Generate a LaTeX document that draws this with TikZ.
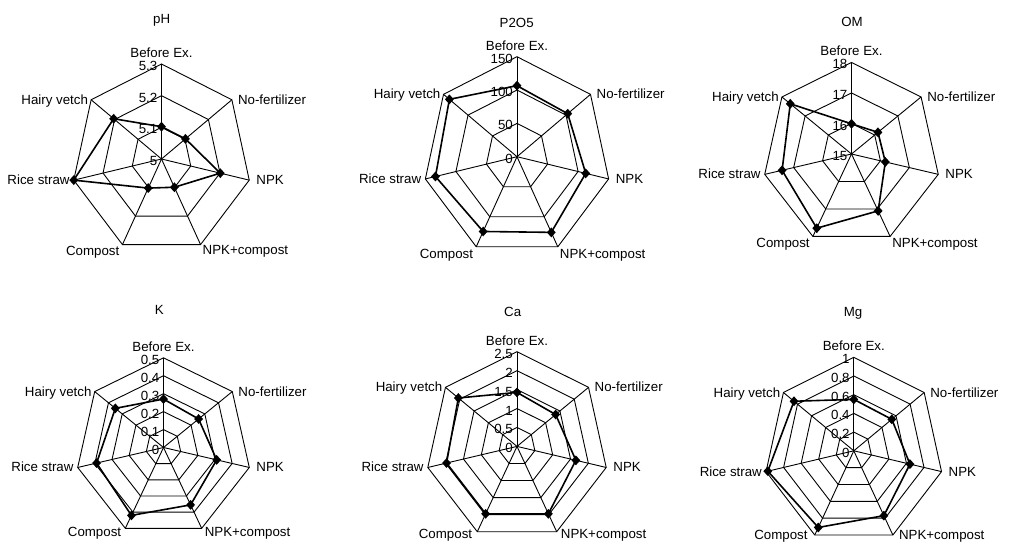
\documentclass[tikz,border=0pt]{standalone}
\usepackage{fontspec}
\setmainfont{Liberation Sans}
\usetikzlibrary{calc,shapes.geometric}
\tikzset{
  gridline/.style={line width=0.9pt, black},
  dataline/.style={line width=1.6pt, black, line join=round},
  datamark/.style={shape=diamond, fill=black, draw=none, inner sep=0pt, minimum width=9pt, minimum height=10pt},
  axlab/.style={font=\fontsize{13.3}{13.3}\selectfont, inner sep=0pt},
  ticklab/.style={font=\fontsize{13.3}{13.3}\selectfont, inner sep=0pt, anchor=base east},
  titlelab/.style={font=\fontsize{13.3}{13.3}\selectfont, inner sep=0pt, anchor=base},
}
\def\labdx{2}
% #1 prefix, #2 cx, #3 cy, #4 rx, #5 ry, #6 rings, #7 bottom label offset, #8 tick labels, #9 data fractions
\newcommand\radarplot[9]{%
  \coordinate (#1c) at (#2,#3);
  \foreach \i in {0,...,6}{%
    \pgfmathsetmacro\ang{90-\i*360/7}
    \coordinate (#1v\i) at ({#2+#4*cos(\ang)},{#3-#5*sin(\ang)});
  }
  \foreach \k in {1,...,#6}{%
    \pgfmathsetmacro\fr{\k/#6}
    \draw[gridline] ($(#1c)!\fr!(#1v0)$) -- ($(#1c)!\fr!(#1v1)$) -- ($(#1c)!\fr!(#1v2)$) -- ($(#1c)!\fr!(#1v3)$) -- ($(#1c)!\fr!(#1v4)$) -- ($(#1c)!\fr!(#1v5)$) -- ($(#1c)!\fr!(#1v6)$) -- cycle;
  }
  \foreach \i in {0,...,6}{\draw[gridline] (#1c) -- (#1v\i);}
  \foreach \lab [count=\k from 0] in {#8}{%
    \pgfmathsetmacro\fr{\k/#6}
    \node[ticklab] (#1k\k) at ($(#1c)!\fr!(#1v0)+(-4,6.5)$) {\lab};
  }
  \foreach \v [count=\i from 0] in {#9}{%
    \coordinate (#1d\i) at ($(#1c)!\v!(#1v\i)$);
  }
  \draw[dataline] (#1d0) -- (#1d1) -- (#1d2) -- (#1d3) -- (#1d4) -- (#1d5) -- (#1d6) -- cycle;
  \foreach \i in {0,...,6}{\node[datamark] (#1m\i) at (#1d\i) {};}
  \node[axlab, anchor=base] (#1a0) at ($(#1v0)+(0,-6.5)$) {Before Ex.};
  \node[axlab, anchor=base west] (#1a1) at ($(#1v1)+(6,4.5)$) {No-fertilizer};
  \node[axlab, anchor=base west] (#1a2) at ($(#1v2)+(7,4.5)$) {NPK};
  \node[axlab, anchor=north west] (#1a3) at ($(#1v3)+(\labdx,#7)$) {NPK+compost};
  \node[axlab, anchor=north east] (#1a4) at ($(#1v4)+(-\labdx-1,#7)$) {Compost};
  \node[axlab, anchor=base east] (#1a5) at ($(#1v5)+(-4,4.5)$) {Rice straw};
  \node[axlab, anchor=base east] (#1a6) at ($(#1v6)+(-3,4.5)$) {Hairy vetch};
}
\begin{document}
\begin{tikzpicture}[x=1pt,y=-1pt]
\fill[white] (0,0) rectangle (1013,543);
\useasboundingbox (0,0) rectangle (1013,543);

\radarplot{ph}{161.5}{159}{90}{95}{3}{1}{5,5.1,5.2,5.3}{0.34,0.34,0.67,0.33,0.34,1,0.68}
\radarplot{pp}{517}{156.7}{94}{100}{3}{2}{0,50,100,150}{0.71,0.69,0.75,0.84,0.83,0.89,0.92}
\radarplot{om}{851.5}{154}{89}{91.5}{3}{2}{15,16,17,18}{0.33,0.38,0.39,0.69,0.9,0.8,0.88}
\def\labdx{3}
\radarplot{kk}{163.5}{447.5}{88}{89.7}{5}{-1}{0,0.1,0.2,0.3,0.4,0.5}{0.54,0.51,0.62,0.71,0.84,0.78,0.70}
\def\labdx{4}
\radarplot{ca}{517}{446.4}{91.5}{94.7}{5}{-3}{0,0.5,1,1.5,2,2.5}{0.57,0.54,0.66,0.79,0.79,0.79,0.82}
\def\labdx{6}
\radarplot{mg}{853.8}{450.8}{90}{93.5}{5}{-5}{0,0.2,0.4,0.6,0.8,1}{0.55,0.54,0.64,0.77,0.91,0.98,0.85}

\node[titlelab] (tph) at (161.7,24) {pH};
\node[titlelab] (tpp) at (516.7,27.3) {P2O5};
\node[titlelab] (tom) at (852,26.7) {OM};
\node[titlelab] (tkk) at (159.3,314) {K};
\node[titlelab] (tca) at (512.7,316.7) {Ca};
\node[titlelab] (tmg) at (853,316.5) {Mg};
\end{tikzpicture}
\end{document}
